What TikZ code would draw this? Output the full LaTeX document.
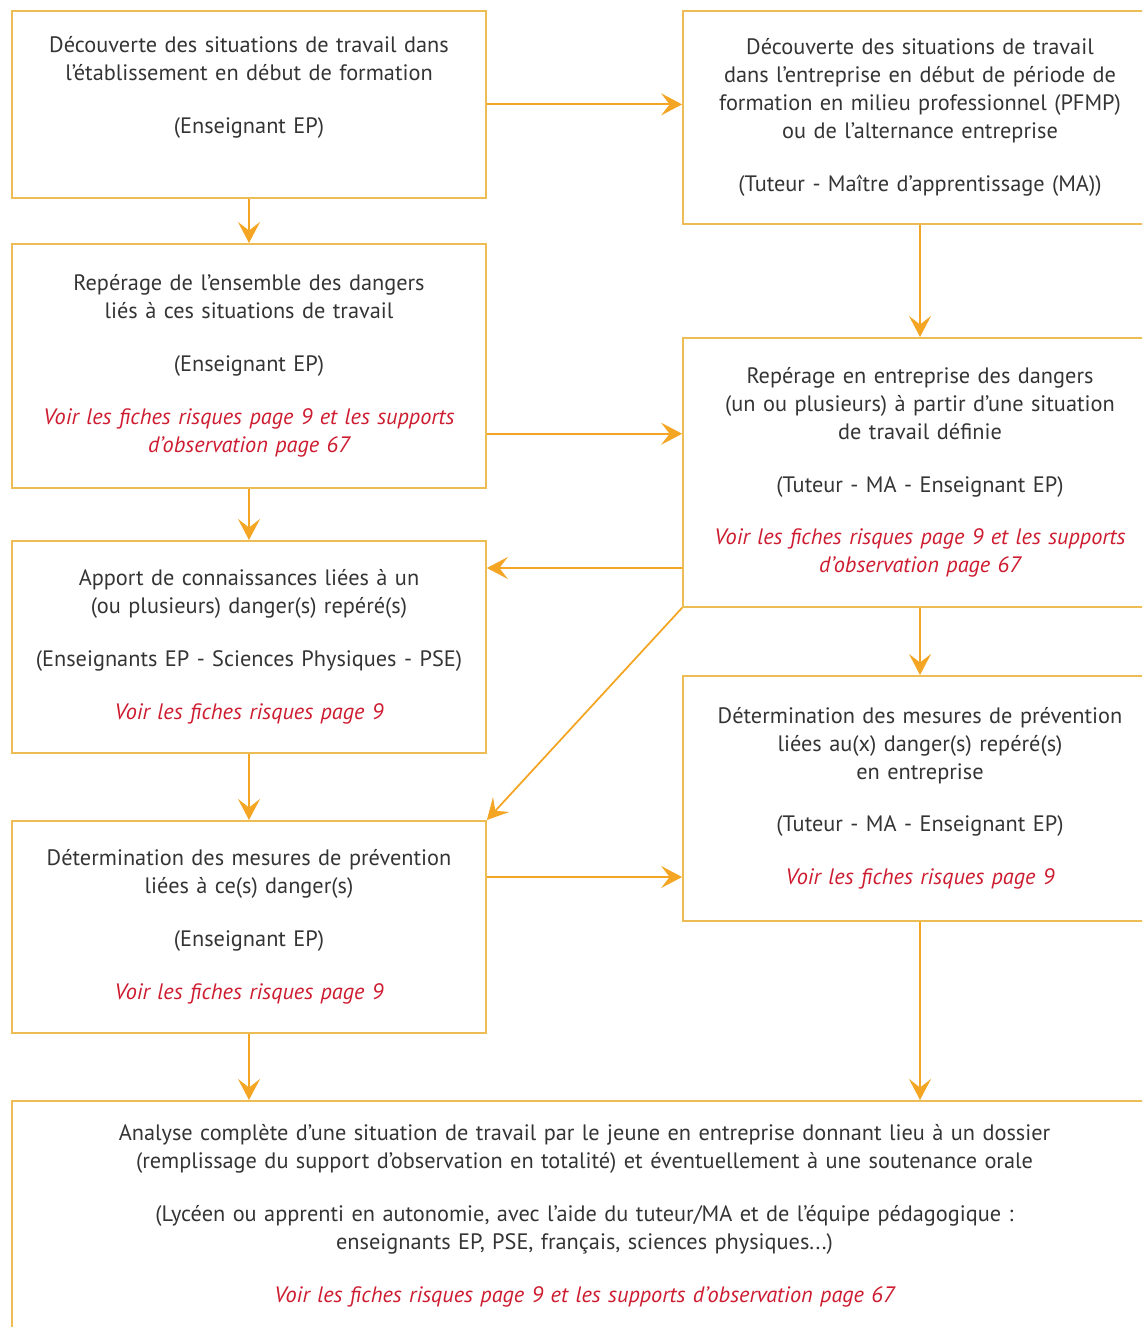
\documentclass[tikz,border=0pt]{standalone}
\usepackage{fontspec}
\setmainfont{PT Sans}
\usetikzlibrary{arrows.meta,calc}
\definecolor{boxline}{RGB}{238,188,84}
\definecolor{arrorange}{RGB}{243,165,35}
\definecolor{voirred}{RGB}{205,28,48}
\definecolor{txtgray}{RGB}{52,52,52}

\begin{document}
\begin{tikzpicture}[
    box/.style={rectangle, draw=boxline, line width=1pt, anchor=north,
                minimum width=9.48cm, text width=9.2cm, align=center,
                text=txtgray, font=\fontsize{12.7}{15.9}\selectfont},
    arrow/.style={-{Stealth[length=0.42cm, width=0.44cm, inset=0.17cm]},
                  line width=1pt, color=arrorange}
]
\useasboundingbox (0,0) rectangle (22.84,-26.54);
\clip (0,0) rectangle (22.84,-26.54);

% etablissement (left column)
\node[box, minimum height=3.74cm] (L1) at (4.98,-0.2)
    {Découverte des situations de travail dans\\
     l’établissement en début de formation\\[0.5cm]
     (Enseignant EP)\par\vspace*{0.68cm}};
\node[box, minimum height=4.88cm] (L2) at (4.98,-4.86)
    {Repérage de l’ensemble des dangers\\
     liés à ces situations de travail\\[0.5cm]
     (Enseignant EP)\\[0.5cm]
     {\color{voirred}\itshape Voir les fiches risques page 9 et les supports\\
     d'observation page 67}};
\node[box, minimum height=4.24cm] (L3) at (4.98,-10.8)
    {Apport de connaissances liées à un\\
     (ou plusieurs) danger(s) repéré(s)\\[0.5cm]
     (Enseignants EP - Sciences Physiques - PSE)\\[0.5cm]
     {\color{voirred}\itshape Voir les fiches risques page 9}};
\node[box, minimum height=4.24cm] (L4) at (4.98,-16.4)
    {Détermination des mesures de prévention\\
     liées à ce(s) danger(s)\\[0.5cm]
     (Enseignant EP)\\[0.5cm]
     {\color{voirred}\itshape Voir les fiches risques page 9}};

% entreprise (right column)
\node[box, minimum height=4.26cm] (R1) at (18.4,-0.2)
    {Découverte des situations de travail\\
     dans l’entreprise en début de période de\\
     formation en milieu professionnel (PFMP)\\
     ou de l’alternance entreprise\\[0.5cm]
     (Tuteur - Maître d'apprentissage (MA))};
\node[box, minimum height=5.38cm] (R2) at (18.4,-6.74)
    {Repérage en entreprise des dangers\\
     (un ou plusieurs) à partir d’une situation\\
     de travail définie\\[0.5cm]
     (Tuteur - MA - Enseignant EP)\\[0.5cm]
     {\color{voirred}\itshape Voir les fiches risques page 9 et les supports\\
     d'observation page 67}};
\node[box, minimum height=4.9cm] (R3) at (18.4,-13.5)
    {Détermination des mesures de prévention\\
     liées au(x) danger(s) repéré(s)\\
     en entreprise\\[0.5cm]
     (Tuteur - MA - Enseignant EP)\\[0.5cm]
     {\color{voirred}\itshape Voir les fiches risques page 9}};

% analyse complete
\node[box, minimum width=22.9cm, text width=22.4cm, minimum height=4.6cm]
    (An) at (11.69,-22.0)
    {Analyse complète d’une situation de travail par le jeune en entreprise donnant lieu à un dossier\\
     (remplissage du support d’observation en totalité) et éventuellement à une soutenance orale\\[0.5cm]
     (Lycéen ou apprenti en autonomie, avec l’aide du tuteur/MA et de l’équipe pédagogique :\\
     enseignants EP, PSE, français, sciences physiques...)\\[0.5cm]
     {\color{voirred}\itshape Voir les fiches risques page 9 et les supports d'observation page 67}};

% arrows
\coordinate (L2out) at ([yshift=1.1cm]L2.south east);
\coordinate (L3in) at ([yshift=-0.56cm]L3.north east);
\coordinate (L4out) at ([yshift=-1.14cm]L4.north east);
\draw[arrow] (L1) -- (L2);
\draw[arrow] (L1.east) -- (L1.east -| R1.west);
\draw[arrow] (R1) -- (R2);
\draw[arrow] (L2out) -- (L2out -| R2.west);
\draw[arrow] (L2) -- (L3);
\draw[arrow] (L3in -| R2.west) -- (L3in);
\draw[arrow] (R2.south west) -- (L4.north east);
\draw[arrow] (L3) -- (L4);
\draw[arrow] (R2) -- (R3);
\draw[arrow] (L4out) -- (L4out -| R3.west);
\draw[arrow] (L4.south) -- (L4.south |- An.north);
\draw[arrow] (R3.south) -- (R3.south |- An.north);
\end{tikzpicture}
\end{document}
